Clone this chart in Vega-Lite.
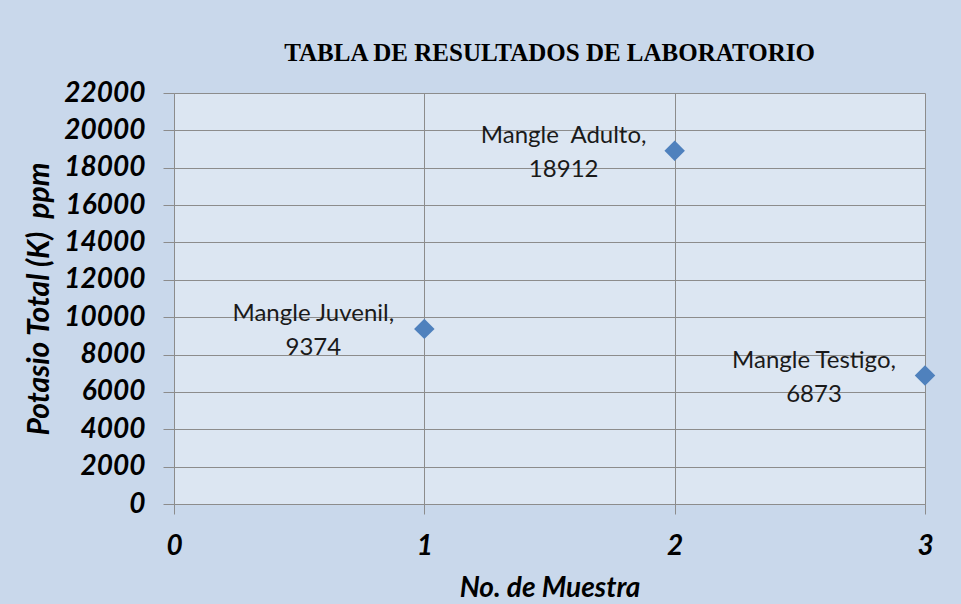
{
  "$schema": "https://vega.github.io/schema/vega-lite/v6.json",
  "width": 751,
  "height": 411,
  "autosize": {"type": "none"},
  "padding": {"left": 174, "top": 93, "right": 36, "bottom": 100},
  "background": "#C9D8EB",
  "config": {
    "view": {"fill": "#DCE6F2", "stroke": null},
    "axis": {
      "gridColor": "#8C8C8C",
      "gridOpacity": 1,
      "gridWidth": 1,
      "domainColor": "#8C8C8C",
      "tickColor": "#8C8C8C",
      "labelFont": "Lato",
      "labelFontStyle": "italic",
      "labelFontWeight": "bold",
      "labelFontSize": 28,
      "labelColor": "#000000",
      "titleFont": "Lato",
      "titleFontStyle": "italic",
      "titleFontWeight": "bold",
      "titleFontSize": 28,
      "titleColor": "#000000"
    }
  },
  "title": {
    "text": "TABLA DE RESULTADOS DE LABORATORIO",
    "font": "Liberation Serif",
    "fontWeight": "bold",
    "fontSize": 25,
    "color": "#000000",
    "anchor": "middle",
    "offset": 13
  },
  "data": {
    "values": [
      {"muestra": 1, "k": 9374, "line1": "Mangle Juvenil,", "line2": "9374"},
      {"muestra": 2, "k": 18912, "line1": "Mangle\u00a0 Adulto,", "line2": "18912"},
      {"muestra": 3, "k": 6873, "line1": "Mangle Testigo,", "line2": "6873"}
    ]
  },
  "encoding": {
    "x": {
      "field": "muestra",
      "type": "quantitative",
      "scale": {"domain": [0, 3], "nice": false, "zero": true},
      "axis": {
        "title": "No. de Muestra",
        "values": [0, 1, 2, 3],
        "format": "d",
        "tickSize": 10,
        "labelPadding": 18,
        "titlePadding": 14,
        "labelFlush": false
      }
    },
    "y": {
      "field": "k",
      "type": "quantitative",
      "scale": {"domain": [0, 22000], "nice": false},
      "axis": {
        "title": "Potasio Total (K)\u00a0 ppm",
        "titleFontSize": 30,
        "values": [0, 2000, 4000, 6000, 8000, 10000, 12000, 14000, 16000, 18000, 20000, 22000],
        "format": "d",
        "tickSize": 11,
        "labelPadding": 18,
        "titlePadding": 9,
        "labelFlush": false
      }
    }
  },
  "layer": [
    {
      "mark": {"type": "point", "shape": "diamond", "filled": true, "size": 420, "color": "#4F81BD", "opacity": 1}
    },
    {
      "mark": {
        "type": "text",
        "font": "Lato",
        "fontSize": 24,
        "color": "#1a1a1a",
        "align": "center",
        "baseline": "middle",
        "dx": -111,
        "dy": -15
      },
      "encoding": {
        "text": {"field": "line1"}
      }
    },
    {
      "mark": {
        "type": "text",
        "font": "Lato",
        "fontSize": 24,
        "color": "#1a1a1a",
        "align": "center",
        "baseline": "middle",
        "dx": -111,
        "dy": 19
      },
      "encoding": {
        "text": {"field": "line2"}
      }
    }
  ]
}
